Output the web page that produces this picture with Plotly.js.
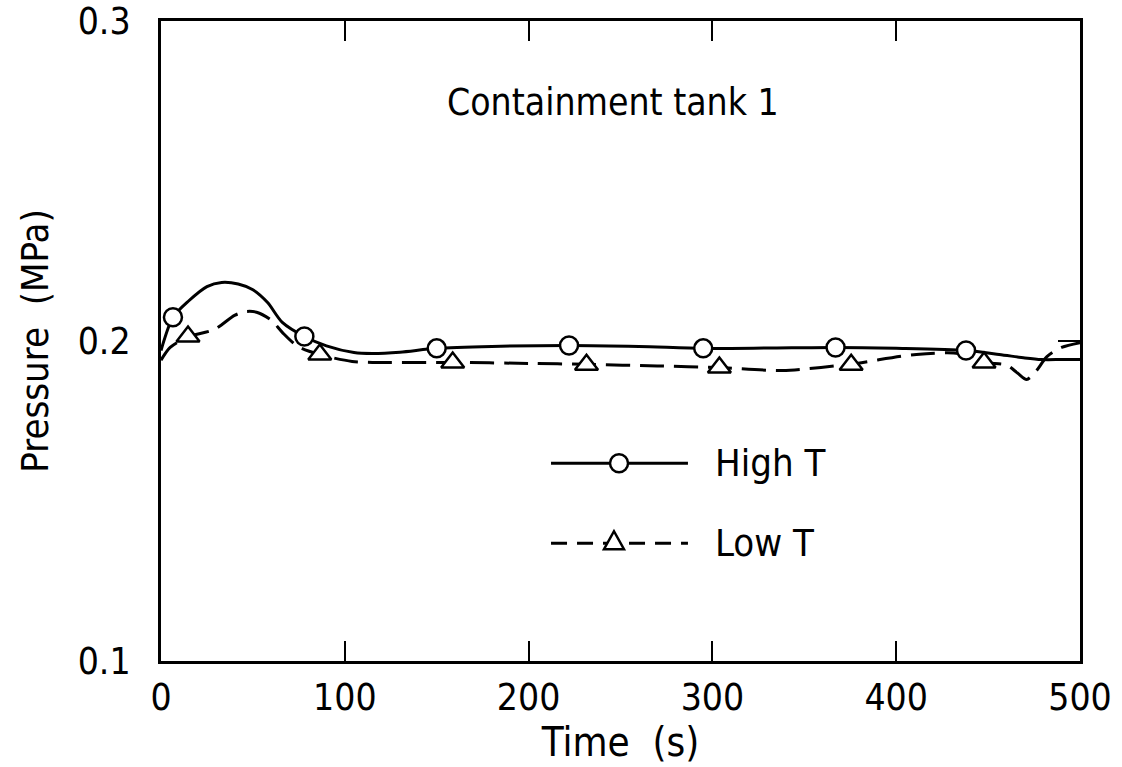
<!DOCTYPE html>
<html>
<head>
<meta charset="utf-8">
<script src="https://cdn.plot.ly/plotly-3.0.1.min.js"></script>
<style>
  html, body { margin: 0; padding: 0; background: #fff; }
  #chart { width: 1122px; height: 767px; }
</style>
</head>
<body>
<div id="chart"></div>
<script>
// Containment tank 1 pressure history, two temperature cases
const timeHigh = [0, 6.5, 15, 25, 33, 42, 50, 58, 66, 78, 90, 105, 115, 130, 150, 180, 222, 260, 295, 330, 367, 400, 438, 456, 470, 479, 490, 500];
const pressHigh = [0.197, 0.2074, 0.2125, 0.2170, 0.2183, 0.2178, 0.2160, 0.2120, 0.2058, 0.2014, 0.1985, 0.1964, 0.1961, 0.1965, 0.1977, 0.1983, 0.1986, 0.1983, 0.1977, 0.1978, 0.1980, 0.1977, 0.1970, 0.1958, 0.1947, 0.1942, 0.1942, 0.1942];

const timeLow = [0, 5, 14.7, 29, 40, 46, 52, 60, 66, 74.5, 86, 104, 115, 159, 200, 232, 270, 304, 338, 374, 411, 434, 448, 460, 466, 471, 476, 482, 490, 500];
const pressLow = [0.194, 0.198, 0.2013, 0.2036, 0.2080, 0.2092, 0.2090, 0.2065, 0.2027, 0.1983, 0.1958, 0.1936, 0.1933, 0.1933, 0.1930, 0.1927, 0.1922, 0.1917, 0.1908, 0.1927, 0.1958, 0.1961, 0.1933, 0.1925, 0.1900, 0.1880, 0.1905, 0.1951, 0.1980, 0.1995];

// symbol positions along each curve
const markTimeHigh = [6.5, 78, 150, 222, 295, 367, 438];
const markPressHigh = [0.2074, 0.2014, 0.1977, 0.1986, 0.1977, 0.1980, 0.1970];
const markTimeLow = [14.7, 86.4, 158.7, 231.5, 303.8, 375.5, 447.8];
const markPressLow = [0.2014, 0.1958, 0.1933, 0.1926, 0.1917, 0.1926, 0.1933];

const xTicks = [0, 100, 200, 300, 400, 500];
const yTicks = [0.1, 0.2, 0.3];
const yTickText = ['0.1', '0.2', '0.3'];

const seriesNames = ['High T', 'Low T'];
const chartLabel = 'Containment tank 1';

const FONT = "'DejaVu Sans Condensed', 'Liberation Sans Narrow', sans-serif";
const INK = '#000';

// small pad so the end ticks are not dropped by floating-point rounding
const Y_RANGE = [0.1 - 1e-6, 0.3 + 1e-6];

const traces = [
  {
    x: timeHigh, y: pressHigh, type: 'scatter', mode: 'lines',
    line: { color: INK, width: 3, shape: 'spline', smoothing: 0.8 },
    hoverinfo: 'skip', showlegend: false
  },
  {
    x: timeLow, y: pressLow, type: 'scatter', mode: 'lines',
    line: { color: INK, width: 3, dash: '24px,10px', shape: 'spline', smoothing: 0.8 },
    hoverinfo: 'skip', showlegend: false
  },
  {
    x: markTimeHigh, y: markPressHigh, type: 'scatter', mode: 'markers',
    marker: { symbol: 'circle', size: 18, color: '#fff', line: { color: INK, width: 2.5 } },
    showlegend: false
  },
  {
    x: markTimeLow, y: markPressLow, type: 'scatter', mode: 'markers',
    marker: { symbol: 'triangle-up', size: 20, color: '#fff', line: { color: INK, width: 2.5 } },
    showlegend: false
  },
  // invisible trace carrying the right-hand tick
  {
    x: [0], y: [0.2], yaxis: 'y2', type: 'scatter', mode: 'markers',
    marker: { opacity: 0 }, hoverinfo: 'skip', showlegend: false
  }
];

// hand-drawn key
const keyX0 = 0.4244, keyX1 = 0.5734, keyMidHigh = 0.4984, keyMidLow = 0.4929;
const keyYHigh = 0.309, keyYLow = 0.184, keyTextX = 0.6007;

const shapes = [
  { type: 'line', xref: 'paper', yref: 'paper', x0: keyX0, x1: keyX1, y0: keyYHigh, y1: keyYHigh,
    line: { color: INK, width: 3 } },
  { type: 'circle', xref: 'paper', yref: 'paper', xsizemode: 'pixel', ysizemode: 'pixel',
    xanchor: keyMidHigh, yanchor: keyYHigh, x0: -9, x1: 9, y0: -9, y1: 9,
    fillcolor: '#fff', line: { color: INK, width: 2.5 } },
  { type: 'line', xref: 'paper', yref: 'paper', x0: keyX0, x1: keyX1, y0: keyYLow, y1: keyYLow,
    line: { color: INK, width: 3, dash: '16px,10px' } },
  { type: 'path', xref: 'paper', yref: 'paper', xsizemode: 'pixel', ysizemode: 'pixel',
    xanchor: keyMidLow, yanchor: keyYLow, path: 'M -10 -6 L 10 -6 L 0 12 Z',
    fillcolor: '#fff', line: { color: INK, width: 2.5 } }
];

const annotations = [
  { text: chartLabel, xref: 'paper', yref: 'paper', x: 0.492, y: 0.873, showarrow: false,
    xanchor: 'center', yanchor: 'middle', font: { family: FONT, size: 37, color: INK } },
  { text: seriesNames[0], xref: 'paper', yref: 'paper', x: keyTextX, y: keyYHigh, showarrow: false,
    xanchor: 'left', yanchor: 'middle', font: { family: FONT, size: 38, color: INK } },
  { text: seriesNames[1], xref: 'paper', yref: 'paper', x: keyTextX, y: keyYLow, showarrow: false,
    xanchor: 'left', yanchor: 'middle', font: { family: FONT, size: 38, color: INK } }
];

const layout = {
  width: 1122, height: 767,
  margin: { l: 161, r: 42, t: 21, b: 106 },
  paper_bgcolor: '#fff', plot_bgcolor: '#fff',
  showlegend: false,
  font: { family: FONT, color: INK, size: 36 },
  xaxis: {
    range: [0, 500], tickvals: xTicks, ticktext: xTicks.map(String),
    ticks: 'inside', ticklen: 20, tickwidth: 2, tickcolor: INK,
    showline: true, linewidth: 3, linecolor: INK, mirror: 'ticks',
    showgrid: false, zeroline: false,
    tickfont: { family: FONT, size: 37, color: INK },
    ticklabelstandoff: 2,
    title: { text: 'Time  (s)', font: { family: FONT, size: 40, color: INK }, standoff: 6 }
  },
  yaxis: {
    range: Y_RANGE, tickvals: yTicks, ticktext: yTickText,
    ticks: '', showline: true, linewidth: 3, linecolor: INK, mirror: true,
    showgrid: false, zeroline: false,
    tickfont: { family: FONT, size: 37, color: INK },
    ticklabelstandoff: 20, ticklabeloverflow: 'allow',
    title: { text: 'Pressure  (MPa)', font: { family: FONT, size: 38, color: INK }, standoff: 18 }
  },
  yaxis2: {
    range: Y_RANGE, overlaying: 'y', side: 'right', tickvals: [0.2],
    showticklabels: false, ticks: 'inside', ticklen: 22, tickwidth: 2, tickcolor: INK,
    showline: false, showgrid: false, zeroline: false
  },
  shapes: shapes,
  annotations: annotations
};

Plotly.newPlot('chart', traces, layout, { displayModeBar: false, staticPlot: true });
</script>
</body>
</html>
